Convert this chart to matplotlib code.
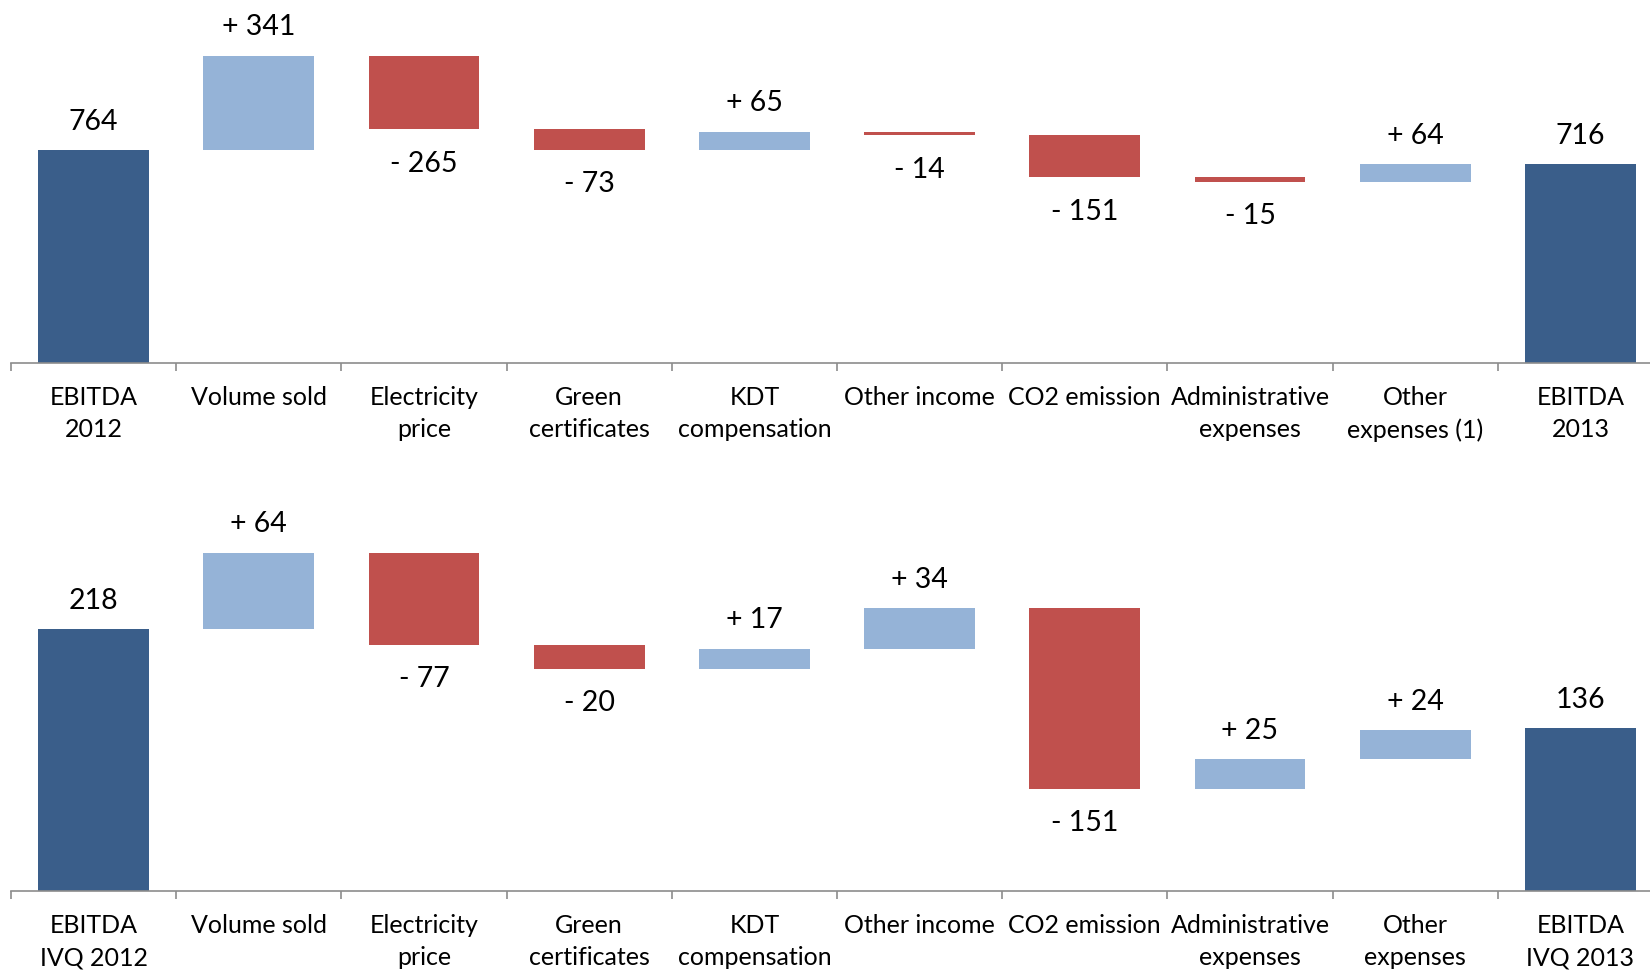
"""
EBITDA bridge charts: full year 2012 -> 2013 and IVQ 2012 -> IVQ 2013
"""

import matplotlib
matplotlib.use("Agg")
import matplotlib.pyplot as plt

# ── Style ────────────────────────────────────────────────────────────
plt.rcParams.update({
    "font.family": ["Lato", "DejaVu Sans"],
    "figure.facecolor": "white",
    "axes.facecolor": "white",
})

TOTAL_COLOR = "#3A5E8A"
UP_COLOR = "#95B3D7"
DOWN_COLOR = "#C0504D"
AXIS_COLOR = "#8C8C8C"

# ── Data ─────────────────────────────────────────────────────────────
labels_year = ["EBITDA\n2012", "Volume sold", "Electricity\nprice", "Green\ncertificates",
               "KDT\ncompensation", "Other income", "CO2 emission",
               "Administrative\nexpenses", "Other\nexpenses (1)", "EBITDA\n2013"]
values_year = [764, 341, -265, -73, 65, -14, -151, -15, 64, 716]

labels_q4 = ["EBITDA\nIVQ 2012", "Volume sold", "Electricity\nprice", "Green\ncertificates",
             "KDT\ncompensation", "Other income", "CO2 emission",
             "Administrative\nexpenses", "Other\nexpenses", "EBITDA\nIVQ 2013"]
values_q4 = [218, 64, -77, -20, 17, 34, -151, 25, 24, 136]


def draw_waterfall(ax, labels, values, ymax):
    n = len(values)
    running = 0
    for i, v in enumerate(values):
        if i == 0 or i == n - 1:
            bottom, height, color = 0, v, TOTAL_COLOR
            running = v
            text = f"{v}"
        else:
            if v >= 0:
                bottom, height, color = running, v, UP_COLOR
                text = f"+ {v}"
            else:
                bottom, height, color = running + v, -v, DOWN_COLOR
                text = f"- {-v}"
            running += v
        ax.bar(i, height, bottom=bottom, width=0.67, color=color, linewidth=0)

        if v >= 0:
            ax.annotate(text, (i, bottom + height), xytext=(0, 14.5),
                        textcoords="offset points", ha="center", va="baseline",
                        fontsize=20.5, color="black")
        else:
            ax.annotate(text, (i, bottom), xytext=(0, -30.5),
                        textcoords="offset points", ha="center", va="baseline",
                        fontsize=20.5, color="black")

        ax.annotate(labels[i], (i, 0), xytext=(0, -16.5), textcoords="offset points",
                    ha="center", va="top", fontsize=18, linespacing=1.5,
                    color="black", annotation_clip=False)

    ax.set_xlim(-0.5, n - 0.5)
    ax.set_ylim(0, ymax)
    for side in ("top", "left", "right"):
        ax.spines[side].set_visible(False)
    ax.spines["bottom"].set_color(AXIS_COLOR)
    ax.spines["bottom"].set_linewidth(1.2)
    ax.set_yticks([])
    ax.set_xticks([b - 0.5 for b in range(n + 1)])
    ax.set_xticklabels([])
    ax.tick_params(axis="x", direction="out", length=6, width=1.2, color=AXIS_COLOR)


def main():
    fig = plt.figure(figsize=(16.5, 9.72), dpi=100)

    ax_top = fig.add_axes([0.00667, 0.62654, 1.0012, 0.37346])
    draw_waterfall(ax_top, labels_year, values_year, 1305)

    ax_bot = fig.add_axes([0.00667, 0.08333, 1.0012, 0.44856])
    draw_waterfall(ax_bot, labels_q4, values_q4, 363.3)

    fig.savefig("out.png", dpi=100)
    plt.close(fig)


if __name__ == "__main__":
    main()
